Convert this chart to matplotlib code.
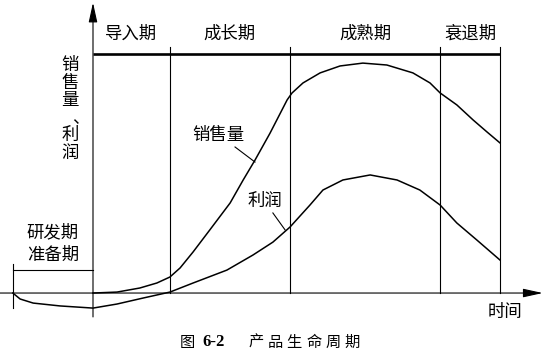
import numpy as np
from matplotlib import pyplot as plt

plt.rcParams['font.family'] = ['Noto Sans CJK SC', 'DejaVu Sans']

# time axis: 0 = launch, 100 = end of decline; value axis: 100 = top band line
stage_names = ['导入期', '成长期', '成熟期', '衰退期']
stage_edges = [0, 18.9, 48.4, 85.3, 100]
rd_start = -19.7

sales_t = [0, 5.9, 11.5, 15.7, 18.9, 21.4, 24.6, 28.7, 33.7, 36.9, 39.8, 43.5,
           47.7, 48.9, 51.6, 55.8, 60.7, 66.3, 72.2, 78.6, 82.8, 85.3, 89.4,
           93.4, 96.8, 100]
sales_v = [0, 0.4, 2.1, 4.2, 6.7, 10.5, 17.2, 26.4, 37.7, 47.3, 55.6, 66.9,
           80.8, 83.7, 87.9, 92.1, 95.0, 96.2, 95.4, 92.1, 87.9, 83.7, 78.7,
           72.4, 67.4, 62.8]

profit_t = [-19.7, -17.9, -14.7, -8.1, 0, 5.9, 12.3, 18.9, 24.6, 32.9, 39.3,
            44.2, 48.4, 53.3, 56.5, 61.4, 68.1, 74.7, 80.3, 85.3, 89.4, 94.3, 100]
profit_v = [0, -2.5, -4.2, -5.4, -6.3, -4.6, -2.1, 0.4, 4.2, 9.6, 15.9, 21.3,
            27.6, 36.8, 43.1, 47.3, 49.4, 47.3, 43.1, 36.8, 29.3, 22.2, 13.8]

ylabel_chars = ['销', '售', '量', '、', '利', '润']
caption_chars = ['产', '品', '生', '命', '周', '期']

FS = 12.5


def main():
    fig = plt.figure(figsize=(5.47, 3.59), dpi=100)
    ax = fig.add_axes([0, 0, 1, 1])
    ax.set_xlim(-22.85, 111.55)
    ax.set_ylim(-27.6, 122.6)
    ax.axis('off')

    # axes with arrows
    ax.annotate('', xy=(110.5, 0), xytext=(-22.85, 0),
                arrowprops=dict(arrowstyle='-|>,head_length=1.0,head_width=0.22',
                                color='k', lw=0.8, mutation_scale=12, shrinkA=0, shrinkB=0))
    ax.annotate('', xy=(0, 121.5), xytext=(0, -10),
                arrowprops=dict(arrowstyle='-|>,head_length=1.0,head_width=0.22',
                                color='k', lw=0.8, mutation_scale=12, shrinkA=0, shrinkB=0))

    # stage band
    ax.plot([stage_edges[0], stage_edges[-1]], [100, 100], color='k', lw=1.9,
            solid_capstyle='butt')
    for e in stage_edges[1:]:
        ax.plot([e, e], [0, 102.9], color='k', lw=0.8)
    for i, name in enumerate(stage_names):
        mid = (stage_edges[i] + stage_edges[i + 1]) / 2
        ax.text(mid, 108.4, name, ha='center', va='center', fontsize=FS)

    # R&D bracket
    ax.plot([rd_start, rd_start], [-6.3, 12.1], color='k', lw=0.8)
    ax.plot([rd_start, 0], [9.6, 9.6], color='k', lw=0.8)
    ax.text(rd_start / 2, 25.5, '研发期', ha='center', va='center', fontsize=FS)
    ax.text(rd_start / 2, 15.9, '准备期', ha='center', va='center', fontsize=FS)

    # curves
    ax.plot(sales_t, sales_v, color='k', lw=1.1, solid_joinstyle='round')
    ax.plot(profit_t, profit_v, color='k', lw=1.1, solid_joinstyle='round')

    ax.text(30.7, 66.1, '销售量', ha='center', va='center', fontsize=FS)
    ax.plot([34.9, 39.8], [61.1, 54.8], color='k', lw=0.8)
    ax.text(42.3, 38.5, '利润', ha='center', va='center', fontsize=FS)
    ax.plot([44.2, 47.2], [33.5, 26.4], color='k', lw=0.8)

    # y label, written vertically
    ys = [95.4, 87.9, 80.8, 73.2, 66.1, 58.6]
    for ch, y in zip(ylabel_chars, ys):
        x = -3.1 if ch == '、' else -5.65
        ax.text(x, y, ch, ha='center', va='center', fontsize=FS)

    ax.text(101.2, -7.9, '时间', ha='center', va='center', fontsize=FS)

    # caption
    ax.text(23.1, -20.5, '图', ha='center', va='center', fontsize=11)
    ax.text(29.7, -20.5, '6-2', ha='center', va='center', fontsize=12,
            family='Liberation Serif', weight='bold')
    for ch, x in zip(caption_chars, [40.0, 44.7, 49.4, 54.3, 59.0, 63.6]):
        ax.text(x, -20.5, ch, ha='center', va='center', fontsize=11)

    fig.savefig('out.png', dpi=100)


if __name__ == '__main__':
    main()
